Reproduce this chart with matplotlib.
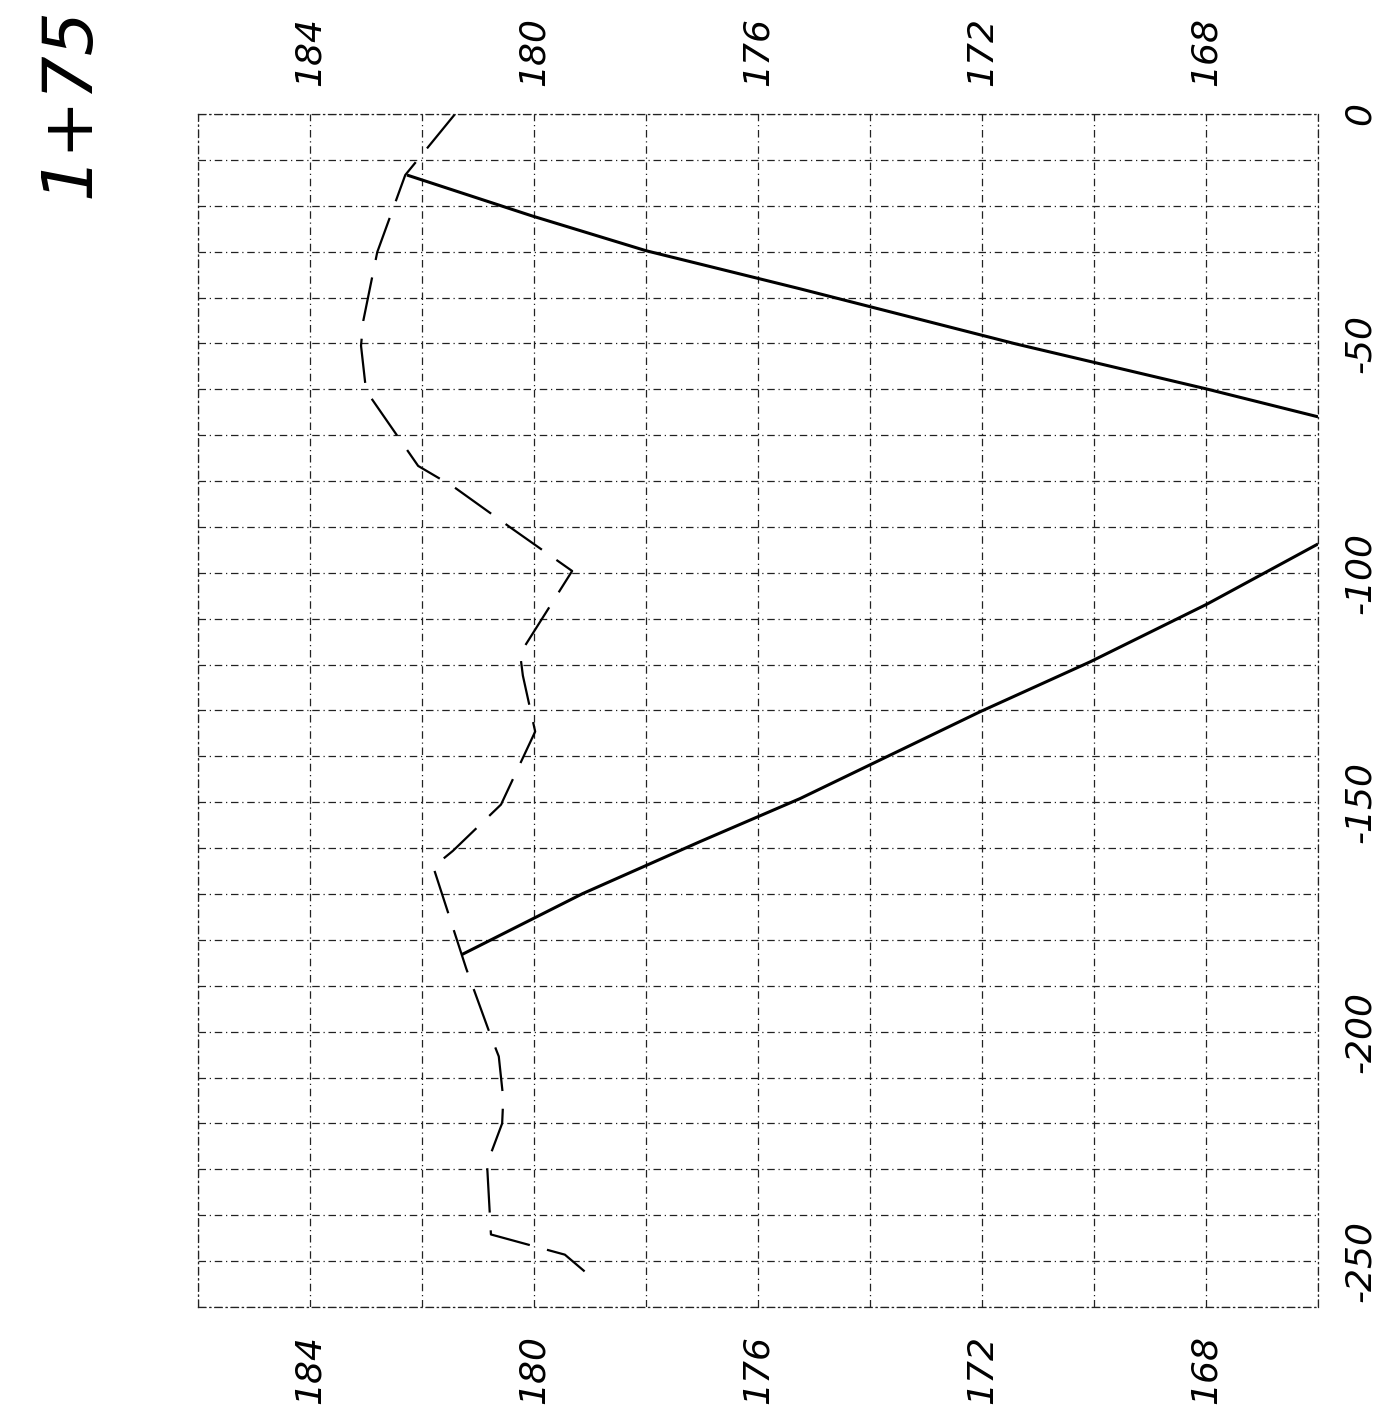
import numpy as np
import matplotlib
matplotlib.use("Agg")
import matplotlib.pyplot as plt

# profile (dashed) : station vs elevation
prof_sta = [0, -13.3, -30.1, -45.1, -50.5, -60.3, -76.7, -81.3, -90.4, -99.6,
            -117.6, -122.4, -134.6, -150.5, -160.6, -164.1, -186.3, -200.4,
            -205.4, -214.6, -220.0, -228.8, -244.2, -248.6, -254.5]
prof_elev = [181.41, 182.30, 182.80, 183.05, 183.09, 183.00, 182.07, 181.43,
             180.39, 179.32, 180.25, 180.20, 179.98, 180.59, 181.45, 181.80,
             181.21, 180.79, 180.63, 180.55, 180.57, 180.84, 180.77, 179.45,
             178.88]

# upper grade line (solid)
up_sta = [-13.3, -22.2, -29.8, -38.1, -50.1, -59.9, -66.0]
up_elev = [182.27, 180.04, 178.0, 175.25, 171.4, 168.0, 166.0]

# lower grade line (solid)
low_sta = [-183.2, -169.9, -158.6, -149.2, -130.3, -119.4, -106.8, -93.7]
low_elev = [181.29, 179.13, 177.04, 175.25, 172.04, 170.07, 167.98, 166.0]

elev_ticks = [184, 180, 176, 172, 168]
sta_ticks = [0, -50, -100, -150, -200, -250]

fig = plt.figure(figsize=(13.87, 14.16), dpi=100)
ax = fig.add_axes([0.1428, 0.0770, 0.8075, 0.8425])

ax.plot(up_elev, up_sta, color="black", lw=2.2, solid_capstyle="butt")
ax.plot(low_elev, low_sta, color="black", lw=2.2, solid_capstyle="butt")
ax.plot(prof_elev, prof_sta, color="black", lw=1.6, dashes=(20, 8))

ax.set_xlim(186, 166)
ax.set_ylim(-260, 0)

ax.set_xticks(elev_ticks)
ax.set_xticks(np.arange(166, 187, 2), minor=True)
ax.set_yticks(sta_ticks)
ax.set_yticks(np.arange(-260, 1, 10), minor=True)
ax.grid(True, which="both", color="#222222", lw=0.9, linestyle=(0, (6, 3, 1, 3)))

lab_font = dict(fontsize=26, fontstyle="italic", family="DejaVu Sans")
ax.set_xticklabels([str(v) for v in elev_ticks], rotation=90, **lab_font)
ax.set_yticklabels([str(v) for v in sta_ticks], rotation=90, va="center", **lab_font)
ax.tick_params(axis="x", which="both", length=0, top=True, labeltop=True,
               bottom=True, labelbottom=True, pad=20)
ax.tick_params(axis="y", which="both", length=0, left=False, labelleft=False,
               right=True, labelright=True, pad=18)
# top labels: same look as the bottom ones
for t in ax.xaxis.get_major_ticks():
    t.label2.set_rotation(90)
    t.label2.set_fontsize(26)
    t.label2.set_fontstyle("italic")

for sp in ax.spines.values():
    sp.set_linestyle((0, (6, 3, 1, 3)))
    sp.set_linewidth(0.9)
    sp.set_color("#222222")

fig.text(70 / 1387, 1 - 102 / 1416, "1+75", rotation=90, ha="center", va="center",
         fontsize=50, fontstyle="italic", fontweight="light", family="DejaVu Sans")

fig.savefig("out.png", dpi=100, facecolor="white")
